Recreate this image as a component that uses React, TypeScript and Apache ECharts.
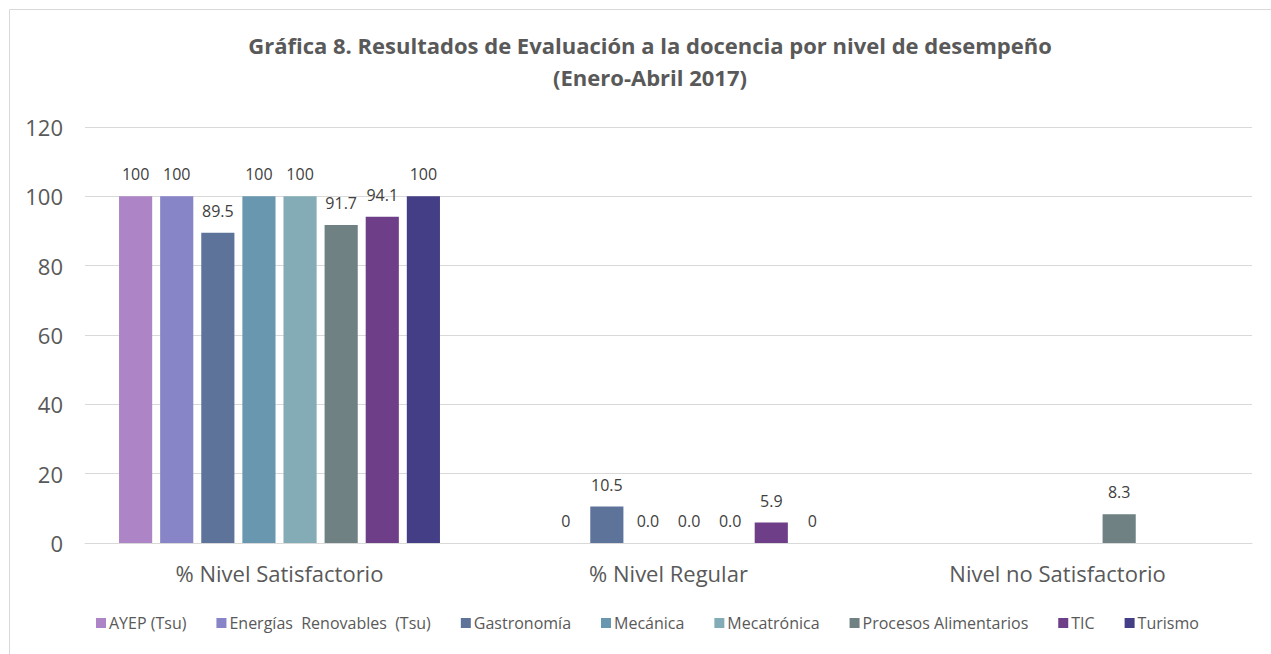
import React, { useEffect, useRef } from "react";
import * as echarts from "echarts";

const categories = ["% Nivel Satisfactorio", "% Nivel Regular", "Nivel no Satisfactorio"];
const seriesNames = [
  "AYEP (Tsu)",
  "Energías  Renovables  (Tsu)",
  "Gastronomía",
  "Mecánica",
  "Mecatrónica",
  "Procesos Alimentarios",
  "TIC",
  "Turismo",
];
const ayep = [100, null, null];
const energias = [100, 0, null];
const gastronomia = [89.5, 10.5, null];
const mecanica = [100, 0, null];
const mecatronica = [100, 0, null];
const procesos = [91.7, 0, 8.3];
const tic = [94.1, 5.9, null];
const turismo = [100, 0, null];
const seriesValues = [ayep, energias, gastronomia, mecanica, mecatronica, procesos, tic, turismo];

const ayepLabels = ["100", "", ""];
const energiasLabels = ["100", "0", ""];
const gastronomiaLabels = ["89.5", "10.5", ""];
const mecanicaLabels = ["100", "0.0", ""];
const mecatronicaLabels = ["100", "0.0", ""];
const procesosLabels = ["91.7", "0.0", "8.3"];
const ticLabels = ["94.1", "5.9", ""];
const turismoLabels = ["100", "0", ""];
const seriesLabels = [
  ayepLabels,
  energiasLabels,
  gastronomiaLabels,
  mecanicaLabels,
  mecatronicaLabels,
  procesosLabels,
  ticLabels,
  turismoLabels,
];

const colors = ["#AD84C6", "#8784C7", "#5D739A", "#6997AF", "#84ACB6", "#6F8183", "#6E3F88", "#433E85"];

const FONT = "'Open Sans', sans-serif";

export default function App() {
  const ref = useRef<HTMLDivElement>(null);
  useEffect(() => {
    if (!ref.current) return;
    const chart = echarts.init(ref.current, null, { renderer: "svg" });
    chart.setOption({
      animation: false,
      backgroundColor: "#ffffff",
      color: colors,
      textStyle: { fontFamily: FONT },
      title: {
        text: "Gráfica 8. Resultados de Evaluación a la docencia por nivel de desempeño\n(Enero-Abril 2017)",
        left: 645,
        textAlign: "center",
        top: 24,
        textStyle: {
          fontFamily: FONT,
          fontSize: 22,
          fontWeight: "bold",
          color: "#595959",
          lineHeight: 32,
        },
      },
      graphic: [
        {
          type: "polyline",
          shape: { points: [[9.5, 660], [9.5, 9.5], [1275, 9.5]] },
          style: { stroke: "#d9d9d9", fill: "none", lineWidth: 1 },
          silent: true,
        },
      ],
      legend: {
        bottom: 18,
        left: 91,
        itemWidth: 10,
        itemHeight: 10,
        itemGap: 30,
        icon: "rect",
        textStyle: { fontFamily: FONT, fontSize: 16, color: "#595959", padding: [0, 0, 0, -2] },
        data: seriesNames,
      },
      grid: { left: 85, right: 19, top: 127, bottom: 111, containLabel: false },
      xAxis: {
        type: "category",
        data: categories,
        axisLine: { show: true, lineStyle: { color: "#d9d9d9" } },
        axisTick: { show: false },
        axisLabel: { fontFamily: FONT, fontSize: 22, color: "#595959", margin: 19 },
      },
      yAxis: {
        type: "value",
        min: 0,
        max: 120,
        interval: 20,
        axisLine: { show: false },
        axisTick: { show: false },
        splitLine: { lineStyle: { color: "#d9d9d9", width: 1 } },
        axisLabel: { fontFamily: FONT, fontSize: 22, color: "#595959", margin: 22 },
      },
      series: seriesNames.map((name, i) => ({
        name,
        type: "bar",
        data: seriesValues[i],
        barCategoryGap: "17.5%",
        barGap: "24%",
        itemStyle: { color: colors[i] },
        label: {
          show: true,
          position: "top",
          distance: 14,
          fontFamily: FONT,
          fontSize: 16,
          color: "#404040",
          formatter: (p: any) => seriesLabels[i][p.dataIndex] ?? "",
        },
      })),
    });
    return () => chart.dispose();
  }, []);
  return (
    <div
      ref={ref}
      style={{ position: "absolute", left: 0, top: 0, width: 1271, height: 654 }}
    />
  );
}
